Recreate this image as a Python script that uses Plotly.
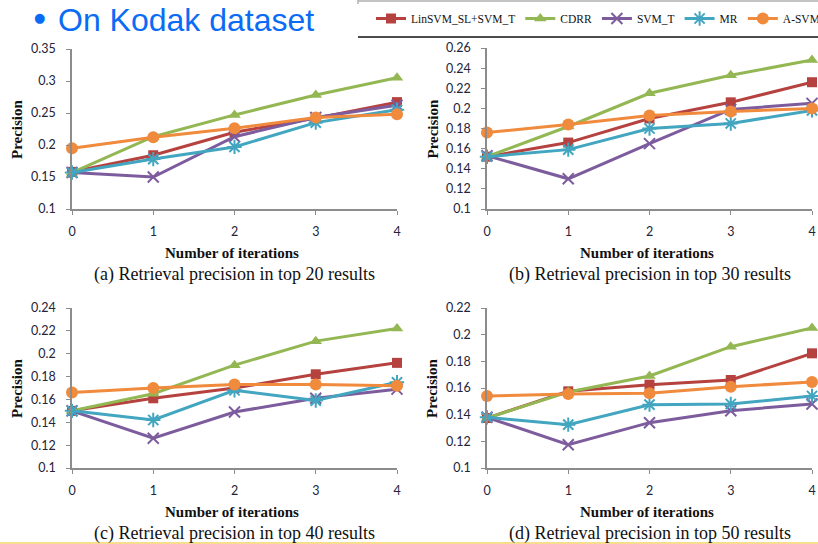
import plotly.graph_objects as go

W, H = 818, 544

iterations = [0, 1, 2, 3, 4]
series_names = ["LinSVM_SL+SVM_T", "CDRR", "SVM_T", "MR", "A-SVM"]

# Panel (a) top 20
a_linsvm = [0.158, 0.184, 0.220, 0.242, 0.267]
a_cdrr   = [0.157, 0.213, 0.247, 0.278, 0.305]
a_svmt   = [0.157, 0.150, 0.213, 0.243, 0.262]
a_mr     = [0.157, 0.178, 0.197, 0.235, 0.255]
a_asvm   = [0.195, 0.212, 0.226, 0.243, 0.248]
# Panel (b) top 30
b_linsvm = [0.152, 0.166, 0.190, 0.206, 0.226]
b_cdrr   = [0.152, 0.182, 0.215, 0.233, 0.248]
b_svmt   = [0.153, 0.130, 0.165, 0.199, 0.205]
b_mr     = [0.152, 0.159, 0.180, 0.185, 0.198]
b_asvm   = [0.176, 0.184, 0.193, 0.197, 0.200]
# Panel (c) top 40
c_linsvm = [0.150, 0.161, 0.170, 0.182, 0.192]
c_cdrr   = [0.150, 0.165, 0.190, 0.211, 0.222]
c_svmt   = [0.150, 0.126, 0.149, 0.161, 0.169]
c_mr     = [0.150, 0.142, 0.168, 0.159, 0.175]
c_asvm   = [0.166, 0.170, 0.173, 0.173, 0.172]
# Panel (d) top 50
d_linsvm = [0.1375, 0.1575, 0.1625, 0.166, 0.186]
d_cdrr   = [0.1375, 0.157, 0.169, 0.191, 0.205]
d_svmt   = [0.138, 0.1175, 0.134, 0.143, 0.148]
d_mr     = [0.138, 0.1325, 0.1475, 0.148, 0.154]
d_asvm   = [0.154, 0.1555, 0.156, 0.161, 0.1645]

captions = [
    "(a) Retrieval precision in top 20 results",
    "(b) Retrieval precision in top 30 results",
    "(c) Retrieval precision in top 40 results",
    "(d) Retrieval precision in top 50 results",
]
y_ranges = [(0.1, 0.35), (0.1, 0.26), (0.1, 0.24), (0.1, 0.22)]
y_dticks = [0.05, 0.02, 0.02, 0.02]

panels = [
    [a_linsvm, a_cdrr, a_svmt, a_mr, a_asvm],
    [b_linsvm, b_cdrr, b_svmt, b_mr, b_asvm],
    [c_linsvm, c_cdrr, c_svmt, c_mr, c_asvm],
    [d_linsvm, d_cdrr, d_svmt, d_mr, d_asvm],
]

colors = ["#B5423F", "#93B752", "#7D5C9E", "#42A6C0", "#F08A3C"]
symbols = ["square", "triangle-up", "x-thin-open", "asterisk-open", "circle"]
msizes = [10, 11, 11, 12, 12]

# pixel boxes: (x0, x1, ytop, ybottom)
boxes = [(72, 397, 49, 209), (487, 812, 48, 209), (72, 397, 308, 468), (487, 812, 308, 468)]

def px(x):
    return x / W

def py(y):
    return 1 - y / H

fig = go.Figure()
tick_font = dict(family="Lato, Liberation Sans, sans-serif", size=12.5, color="#23233a")
serif = "Liberation Serif, Times New Roman, serif"

for i, (vals, box) in enumerate(zip(panels, boxes)):
    xa = "x" if i == 0 else f"x{i+1}"
    ya = "y" if i == 0 else f"y{i+1}"
    for k, name in enumerate(series_names):
        lw = 2 if symbols[k].endswith("open") else 0
        fig.add_trace(go.Scatter(
            x=iterations, y=vals[k], name=name, mode="lines+markers",
            xaxis=xa, yaxis=ya, showlegend=(i == 0),
            line=dict(color=colors[k], width=3),
            marker=dict(symbol=symbols[k], size=msizes[k], color=colors[k],
                        line=dict(color=colors[k], width=lw)),
            cliponaxis=False,
        ))
    x0, x1, yt, yb = box
    axis_common = dict(showgrid=False, zeroline=False, showline=True,
                       linecolor="#8c8c8c", linewidth=1.5, ticks="outside",
                       tickcolor="#8c8c8c", ticklen=4, tickfont=tick_font,
                       automargin=False)
    fig.layout[("xaxis" if i == 0 else f"xaxis{i+1}")] = dict(
        domain=[px(x0), px(x1)], range=[0, 4], anchor=ya,
        tickmode="array", tickvals=iterations, ticktext=[str(v) for v in iterations],
        ticklabelstandoff=6, **axis_common)
    lo, hi = y_ranges[i]
    fig.layout[("yaxis" if i == 0 else f"yaxis{i+1}")] = dict(
        domain=[py(yb), py(yt)], range=[lo, hi], anchor=xa,
        dtick=y_dticks[i], tick0=0.1, tickformat="~g", ticklabelstandoff=8,
        **axis_common)
    cx = (x0 + x1) / 2
    fig.add_annotation(x=px(x0 - 55), y=py((yt + yb) / 2), xref="paper", yref="paper",
                       xanchor="center", yanchor="middle",
                       text="<b>Precision</b>", textangle=-90, showarrow=False,
                       font=dict(family=serif, size=15, color="#111"))
    fig.add_annotation(x=px(cx - 3), y=py(yb + 44), xref="paper", yref="paper",
                       xanchor="center", yanchor="middle",
                       text="<b>Number of iterations</b>", showarrow=False,
                       font=dict(family=serif, size=15, color="#111"))
    fig.add_annotation(x=px(cx), y=py(yb + 65), xref="paper", yref="paper",
                       xanchor="center", yanchor="middle",
                       text=captions[i], showarrow=False,
                       font=dict(family=serif, size=18, color="#111"))

# header
fig.add_annotation(x=px(39), y=py(17), xref="paper", yref="paper", xanchor="center",
                   yanchor="middle", text="●", showarrow=False,
                   font=dict(family="DejaVu Sans, sans-serif", size=13, color="#0a6cf5"))
fig.add_annotation(x=px(56), y=py(20), xref="paper", yref="paper", xanchor="left",
                   yanchor="middle", text="On Kodak dataset", showarrow=False,
                   font=dict(family="Liberation Sans, Arial, sans-serif", size=32, color="#0a6cf5"))

# legend box lines
fig.add_shape(type="line", xref="paper", yref="paper", x0=px(358), x1=1, y0=py(1), y1=py(1),
              line=dict(color="#b0b0b0", width=1.5))
fig.add_shape(type="line", xref="paper", yref="paper", x0=px(358), x1=px(358), y0=py(0), y1=py(4),
              line=dict(color="#b0b0b0", width=1.5))
fig.add_shape(type="line", xref="paper", yref="paper", x0=px(358), x1=1, y0=py(37), y1=py(37),
              line=dict(color="#111", width=1.5))
fig.add_shape(type="line", xref="paper", yref="paper", x0=0, x1=1, y0=py(543), y1=py(543),
              line=dict(color="#f5d36a", width=1.5))

fig.update_layout(
    width=W, height=H, margin=dict(l=0, r=0, t=0, b=0, autoexpand=False),
    paper_bgcolor="white", plot_bgcolor="white",
    showlegend=True,
    legend=dict(orientation="h", x=px(371), y=py(4), xanchor="left", yanchor="top",
                font=dict(family=serif, size=11.5, color="#111"),
                bgcolor="rgba(0,0,0,0)", itemwidth=30, tracegroupgap=0),
)

fig.write_html("out.html", config={"displayModeBar": False},
               post_script="document.body.style.margin='0';document.body.style.overflow='hidden';")
